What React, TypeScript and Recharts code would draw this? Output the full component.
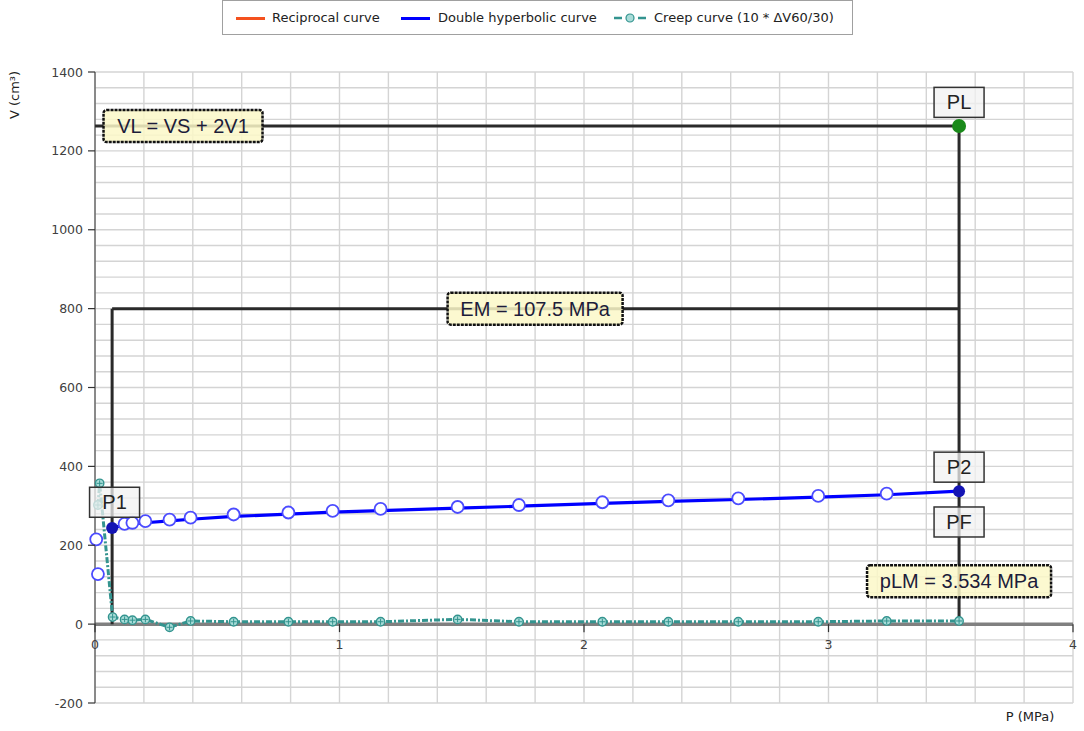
import React from "react";
import { ComposedChart, Line, XAxis, YAxis, CartesianGrid, ReferenceLine, ReferenceDot } from "recharts";

// axis ticks (labelled) and grid ticks
const xTicks = [0, 1, 2, 3, 4];
const yTicks = [-200, 0, 200, 400, 600, 800, 1000, 1200, 1400];
const xGridTicks = Array.from({ length: 21 }, (_, i) => Math.round(i * 0.2 * 10) / 10);
const yGridTicks = Array.from({ length: 41 }, (_, i) => -200 + i * 40);

// measured points (open circles)
const measuredP = [0.005, 0.012, 0.121, 0.153, 0.206, 0.305, 0.391, 0.567, 0.791, 0.972, 1.168, 1.483, 1.734, 2.075, 2.345, 2.631, 2.958, 3.238];
const measuredV = [215, 127, 254, 257, 261, 265, 270, 278, 283, 287, 292, 297, 302, 309, 314, 319, 325, 331];

// double hyperbolic fit
const fitP = [0.07, 0.121, 0.153, 0.206, 0.305, 0.391, 0.567, 0.791, 0.972, 1.168, 1.483, 1.734, 2.075, 2.345, 2.631, 2.958, 3.238, 3.534];
const fitV = [244, 251, 254, 257, 262, 266, 273, 279, 284, 288, 294, 299, 306, 311, 316, 322, 328, 337];

// creep curve (10 * dV60/30)
const creepP = [0.012, 0.019, 0.072, 0.121, 0.153, 0.206, 0.305, 0.391, 0.567, 0.791, 0.972, 1.168, 1.483, 1.734, 2.075, 2.345, 2.631, 2.958, 3.238, 3.534];
const creepV = [302, 357, 18, 12, 10, 12, -8, 8, 6, 6, 6, 6, 12, 6, 6, 6, 6, 6, 8, 8];

// key points
const P1 = { p: 0.07, v: 244 };
const P2 = { p: 3.534, v: 337 };
const PL = { p: 3.534, v: 1263 };
const EM_LEVEL = 800;

const pointLabels = [
  { text: "P1", p: 0.08, v: 309 },
  { text: "P2", p: 3.534, v: 398 },
  { text: "PF", p: 3.534, v: 259 },
  { text: "PL", p: 3.534, v: 1323 },
];
const noteLabels = [
  { text: "VL = VS + 2V1", p: 0.36, v: 1263 },
  { text: "EM = 107.5 MPa", p: 1.8, v: 800 },
  { text: "pLM = 3.534 MPa", p: 3.534, v: 109 },
];
const noteWidth: Record<string, number> = { "VL = VS + 2V1": 159, "EM = 107.5 MPa": 175, "pLM = 3.534 MPa": 184 };

const zip = (ps: number[], vs: number[]) => ps.map((p, i) => ({ p, v: vs[i] }));
const measured = zip(measuredP, measuredV);
const fit = zip(fitP, fitV);
const creep = zip(creepP, creepV);

const FONT = "'Liberation Sans', Arial, sans-serif";
const UI_FONT = "'DejaVu Sans', Verdana, sans-serif";
const TEAL = "#33948f";

const CreepDot = (props: any) => {
  const { cx, cy } = props;
  if (cx == null || cy == null) return null;
  return (
    <g>
      <circle cx={cx} cy={cy} r={4.2} fill="#a9dcd8" stroke={TEAL} strokeWidth={1.4} />
      <line x1={cx - 3} y1={cy} x2={cx + 3} y2={cy} stroke={TEAL} strokeWidth={1} />
      <line x1={cx} y1={cy - 3} x2={cx} y2={cy + 3} stroke={TEAL} strokeWidth={1} />
    </g>
  );
};

const OpenDot = (props: any) => {
  const { cx, cy } = props;
  if (cx == null || cy == null) return null;
  return <circle cx={cx} cy={cy} r={6} fill="#fff" stroke="#4b4bff" strokeWidth={1.8} />;
};

const pointBox = (text: string) => (props: any) => {
  const { cx, cy } = props;
  return (
    <g>
      <rect x={cx - 25} y={cy - 15} width={50} height={30} fill="#f2f2f2" fillOpacity={0.75} stroke="#333" strokeWidth={1.5} />
      <text x={cx} y={cy + 7} textAnchor="middle" fontSize={20} fill="#222" fontFamily={FONT}>{text}</text>
    </g>
  );
};

const noteBox = (text: string) => (props: any) => {
  const { cx, cy } = props;
  const w = noteWidth[text];
  return (
    <g>
      <rect x={cx - w / 2} y={cy - 16} width={w} height={32} rx={3} fill="#fbf8c8" fillOpacity={0.85} stroke="#111" strokeWidth={2.5} strokeDasharray="3 1" />
      <text x={cx} y={cy + 7} textAnchor="middle" fontSize={20} fill="#1c1c3a" fontFamily={FONT}>{text}</text>
    </g>
  );
};

const xTickShape = (label: string) => (props: any) => {
  const { cx, cy } = props;
  return (
    <g>
      <line x1={cx} y1={cy} x2={cx} y2={cy + 8} stroke="#333" strokeWidth={1.2} />
      <text x={cx} y={cy + 25} textAnchor="middle" fontSize={12.5} fill="#404040" fontFamily={UI_FONT}>{label}</text>
    </g>
  );
};

// y-axis tick: label + outer tick line only on the labelled values
const YTick = (props: any) => {
  const { x, y, payload } = props;
  if (!yTicks.includes(payload.value)) return null;
  return (
    <g>
      <line x1={x + 5} y1={y} x2={x + 12} y2={y} stroke="#333" strokeWidth={1.2} />
      <text x={x} y={y + 4.5} textAnchor="end" fontSize={12.5} fill="#404040" fontFamily={UI_FONT}>{payload.value}</text>
    </g>
  );
};

const filledDot = (color: string, r: number) => (props: any) => (
  <circle cx={props.cx} cy={props.cy} r={r} fill={color} />
);

function LegendBox() {
  const txt = { position: "absolute", top: 9, whiteSpace: "nowrap" } as const;
  return (
    <div style={{ position: "absolute", left: 222, top: 0, width: 631, height: 35, boxSizing: "border-box", border: "1px solid #a0a0a0", background: "#fff", fontFamily: UI_FONT, fontSize: 13, color: "#222" }}>
      <div style={{ position: "absolute", left: 13, top: 16, width: 29, height: 3, background: "#f4511e" }} />
      <span style={{ ...txt, left: 49 }}>Reciprocal curve</span>
      <div style={{ position: "absolute", left: 178, top: 16, width: 29, height: 3, background: "#0000ff" }} />
      <span style={{ ...txt, left: 215 }}>Double hyperbolic curve</span>
      <svg width={32} height={12} style={{ position: "absolute", left: 391, top: 11 }}>
        <line x1={0} y1={6} x2={32} y2={6} stroke={TEAL} strokeWidth={2.5} strokeDasharray="8 4" />
        <circle cx={16} cy={6} r={4} fill="#a9dcd8" stroke={TEAL} strokeWidth={1.2} />
      </svg>
      <span style={{ ...txt, left: 431 }}>Creep curve (10 * ΔV60/30)</span>
    </div>
  );
}

export default function App() {
  return (
    <div style={{ position: "absolute", left: 0, top: 0, width: 1084, height: 731, background: "#fff", fontFamily: FONT }}>
      <LegendBox />
      <ComposedChart width={1084} height={731} margin={{ top: 72, right: 11, bottom: 28, left: 35 }}>
        <XAxis dataKey="p" type="number" domain={[0, 4]} ticks={xGridTicks} interval={0} hide />
        <YAxis
          type="number"
          domain={[-200, 1400]}
          ticks={yGridTicks}
          interval={0}
          width={60}
          axisLine={{ stroke: "#333" }}
          tickLine={false}
          tickSize={7}
          tickMargin={5}
          tick={<YTick />}
          label={{
            content: (props: any) => {
              const vb = props.viewBox || { x: 35, y: 72 };
              return (
                <text x={vb.x - 16} y={vb.y + 23} transform={`rotate(-90 ${vb.x - 16} ${vb.y + 23})`} textAnchor="middle" fontSize={13} fill="#222" fontFamily={UI_FONT}>
                  V (cm³)
                </text>
              );
            },
          }}
        />
        <CartesianGrid stroke="#d4d4d4" strokeWidth={1.4} />

        <ReferenceLine y={0} stroke="#808080" strokeWidth={3.5} />

        {/* construction lines */}
        <ReferenceLine segment={[{ x: 0, y: PL.v }, { x: PL.p, y: PL.v }]} stroke="#2a2a2a" strokeWidth={3} />
        <ReferenceLine segment={[{ x: PL.p, y: PL.v }, { x: PL.p, y: 0 }]} stroke="#2a2a2a" strokeWidth={3} />
        <ReferenceLine segment={[{ x: P1.p, y: EM_LEVEL }, { x: P2.p, y: EM_LEVEL }]} stroke="#2a2a2a" strokeWidth={3} />
        <ReferenceLine segment={[{ x: P1.p, y: EM_LEVEL }, { x: P1.p, y: 0 }]} stroke="#2a2a2a" strokeWidth={3} />

        <Line data={creep} dataKey="v" type="linear" stroke={TEAL} strokeWidth={3} strokeDasharray="6 2 2 2" dot={<CreepDot />} isAnimationActive={false} />
        <Line data={fit} dataKey="v" type="linear" stroke="#0000ff" strokeWidth={3.2} dot={false} isAnimationActive={false} />
        <Line data={measured} dataKey="v" type="linear" stroke="none" dot={<OpenDot />} isAnimationActive={false} />

        <ReferenceDot x={P1.p} y={P1.v} r={6} shape={filledDot("#1414b4", 6)} />
        <ReferenceDot x={P2.p} y={P2.v} r={6} shape={filledDot("#1414b4", 6)} />
        <ReferenceDot x={PL.p} y={PL.v} r={7} shape={filledDot("#1a8a1a", 7)} />

        {pointLabels.map((l) => (
          <ReferenceDot key={l.text} x={l.p} y={l.v} ifOverflow="visible" shape={pointBox(l.text)} />
        ))}
        {noteLabels.map((l) => (
          <ReferenceDot key={l.text} x={l.p} y={l.v} ifOverflow="visible" shape={noteBox(l.text)} />
        ))}

        {xTicks.map((t) => (
          <ReferenceDot key={"xt" + t} x={t} y={0} ifOverflow="visible" shape={xTickShape(String(t))} />
        ))}
        <ReferenceDot
          x={4}
          y={-200}
          ifOverflow="visible"
          shape={(props: any) => (
            <text x={props.cx - 43} y={props.cy + 18} textAnchor="middle" fontSize={13} fill="#222" fontFamily={UI_FONT}>P (MPa)</text>
          )}
        />
      </ComposedChart>
    </div>
  );
}
